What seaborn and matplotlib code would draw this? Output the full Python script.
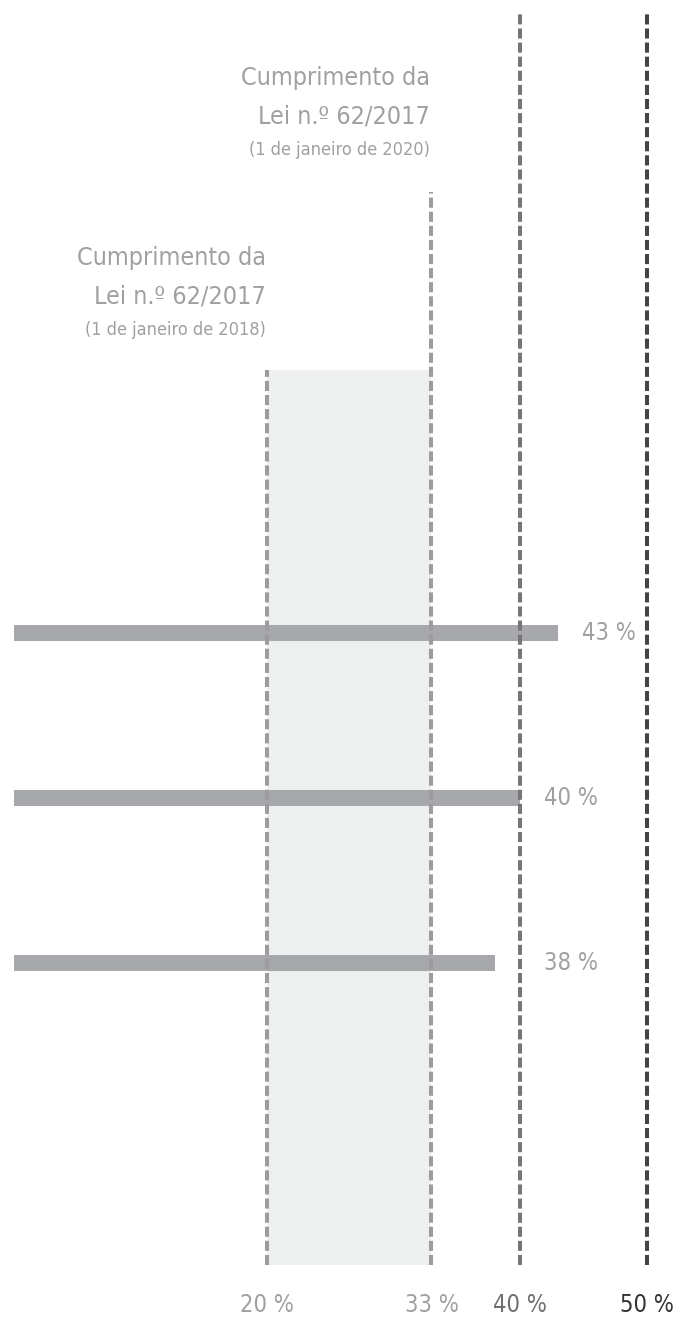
import matplotlib
matplotlib.use("Agg")
import matplotlib.pyplot as plt
import matplotlib.transforms as mtransforms
import pandas as pd
import seaborn as sns

# data
groups = ["A", "B", "C"]
shares = [43, 40, 38]
thresholds = [20, 33, 40, 50]
threshold_labels = ["20 %", "33 %", "40 %", "50 %"]
note_2020 = ["Cumprimento da", "Lei n.º 62/2017", "(1 de janeiro de 2020)"]
note_2018 = ["Cumprimento da", "Lei n.º 62/2017", "(1 de janeiro de 2018)"]

W, H = 677, 1317
PX_PER_PCT = 12.65
X0 = 14

sns.set_style("white")
plt.rcParams["font.family"] = ["DejaVu Sans"]
plt.rcParams["font.stretch"] = "condensed"

fig = plt.figure(figsize=(W / 100, H / 100), dpi=100)
ax = fig.add_axes([0, 0, 1, 1])

df = pd.DataFrame({"group": groups, "share": shares})


def fy(py):
    # pixel row -> axes fraction
    return 1 - py / H


# shaded band between the two legal thresholds
ax.axvspan(thresholds[0], thresholds[1], ymin=fy(1265), ymax=fy(370),
           color="#eef0ef", lw=0, zorder=0)

sns.barplot(data=df, x="share", y="group", orient="h", color="#a7a8ab",
            width=0.1, saturation=1, linewidth=0, ax=ax, zorder=2)

# dashed reference lines
line_style = {
    20: ("#9c9c9e", 370),
    33: ("#9c9c9e", 192),
    40: ("#767678", 11),
    50: ("#444444", 11),
}
for t in thresholds:
    col, top = line_style[t]
    ax.axvline(t, ymin=fy(1265), ymax=fy(top), color=col, lw=2.9,
               ls=(0, (2.5, 1.0)), zorder=3)

ax.set_xlim(-X0 / PX_PER_PCT, (W - X0) / PX_PER_PCT)
# category i sits at pixel row 633 + 165 * i
ax.set_ylim((H - 633) / 165, -633 / 165)
ax.axis("off")

trans = mtransforms.blended_transform_factory(ax.transData, ax.transAxes)

# value labels
for i, v in enumerate(shares):
    ax.text(max(v, 40) + 1.9, i, f"{v} %", ha="left", va="center",
            fontsize=17, color="#a0a0a2")

# bottom tick labels
tick_colors = ["#a0a0a2", "#a0a0a2", "#6f6f71", "#333333"]
for t, lab, c in zip(thresholds, threshold_labels, tick_colors):
    ax.text(t, fy(1305), lab, transform=trans, ha="center", va="center",
            fontsize=17, color=c)

# notes above the lines
for x, lines, rows in [(33, note_2020, (85, 123, 155)),
                       (20, note_2018, (265, 303, 335))]:
    for txt, row, fs in zip(lines, rows, (18, 18, 13)):
        ax.text(x - 0.1, fy(row), txt, transform=trans, ha="right",
                va="baseline", fontsize=fs, color="#a0a0a2")

fig.savefig("out.png", dpi=100)
